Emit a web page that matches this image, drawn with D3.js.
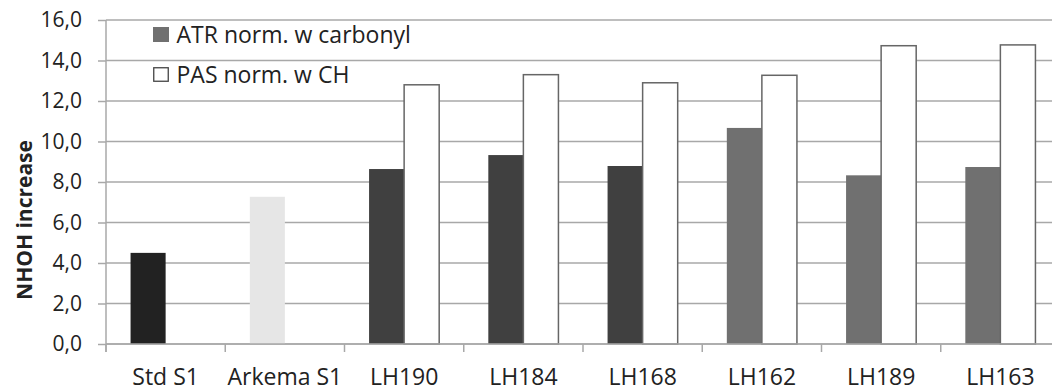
<!DOCTYPE html>
<html>
<head>
<meta charset="utf-8">
<script src="https://cdn.jsdelivr.net/npm/d3@7"></script>
<style>
  body { margin: 0; background: #fff; }
  svg { display: block; font-family: "Open Sans", sans-serif; }
</style>
</head>
<body>
<svg width="1052" height="392"></svg>
<script>
// data
const categories = ["Std S1", "Arkema S1", "LH190", "LH184", "LH168", "LH162", "LH189", "LH163"];
const atrValues = [4.5, 7.27, 8.64, 9.33, 8.79, 10.67, 8.33, 8.74];
const pasValues = [null, null, 12.8, 13.3, 12.9, 13.27, 14.73, 14.77];
const atrColors = ["#222222", "#e6e6e6", "#404040", "#404040", "#404040", "#707070", "#707070", "#707070"];
const yTicks = [0, 2, 4, 6, 8, 10, 12, 14, 16];
const seriesNames = ["ATR norm. w carbonyl", "PAS norm. w CH"];

const margin = { top: 20, right: -8, bottom: 48, left: 106 };
const width = 1052 - margin.left - margin.right;
const height = 392 - margin.top - margin.bottom;

const svg = d3.select("svg");
const g = svg.append("g").attr("transform", `translate(${margin.left}, ${margin.top})`);

const x = d3.scaleBand().domain(categories).range([0, width]);
const y = d3.scaleLinear().domain([0, 16]).range([height, 0]);

const barW = x.bandwidth() * 0.294;
const gap = (x.bandwidth() - 2 * barW) / 2;

// grid
g.selectAll(".grid")
    .data(yTicks)
    .enter().append("line")
    .attr("x1", 0).attr("x2", width)
    .attr("y1", d => y(d)).attr("y2", d => y(d))
    .attr("stroke", "#a8a8a8").attr("stroke-width", 1.5);

// y axis
const yAxis = g.append("g")
    .call(d3.axisLeft(y).tickValues(yTicks).tickSize(8).tickPadding(16)
        .tickFormat(d => d3.format(".1f")(d).replace(".", ",")));
yAxis.select(".domain").remove();
yAxis.selectAll("line").attr("stroke", "#a8a8a8").attr("stroke-width", 1.5);
yAxis.selectAll("text").attr("font-size", 21).attr("fill", "#222").attr("font-family", "Open Sans");
g.append("line")
    .attr("x1", 0).attr("x2", 0).attr("y1", 0).attr("y2", height + 8)
    .attr("stroke", "#a8a8a8").attr("stroke-width", 1.5);

// bars
g.selectAll(".atr")
    .data(categories)
    .enter().append("rect")
    .attr("x", d => x(d) + gap)
    .attr("y", (d, i) => y(atrValues[i]))
    .attr("width", barW)
    .attr("height", (d, i) => height - y(atrValues[i]))
    .attr("fill", (d, i) => atrColors[i]);

g.selectAll(".pas")
    .data(categories.filter((d, i) => pasValues[i] != null))
    .enter().append("rect")
    .attr("x", d => x(d) + gap + barW)
    .attr("y", d => y(pasValues[categories.indexOf(d)]))
    .attr("width", barW)
    .attr("height", d => height - y(pasValues[categories.indexOf(d)]))
    .attr("fill", "#fff")
    .attr("stroke", "#666").attr("stroke-width", 1.5);

// x axis
const xAxis = g.append("g")
    .attr("transform", `translate(0, ${height})`)
    .call(d3.axisBottom(x).tickSize(0));
xAxis.select(".domain").remove();
xAxis.selectAll("text")
    .attr("y", 41).attr("dy", 0)
    .attr("font-size", 23).attr("fill", "#222").attr("font-family", "Open Sans");
g.append("line")
    .attr("x1", 0).attr("x2", width).attr("y1", height).attr("y2", height)
    .attr("stroke", "#a8a8a8").attr("stroke-width", 1.5);
g.selectAll(".xtick")
    .data(categories)
    .enter().append("line")
    .attr("x1", d => x(d)).attr("x2", d => x(d))
    .attr("y1", height).attr("y2", height + 8)
    .attr("stroke", "#a8a8a8").attr("stroke-width", 1.5);

// y title
svg.append("text")
    .attr("transform", "translate(32, 220) rotate(-90)")
    .attr("text-anchor", "middle")
    .attr("font-size", 21).attr("font-weight", "bold").attr("fill", "#222")
    .text("NHOH increase");

// legend
const legend = svg.append("g").attr("transform", "translate(153, 27)");
seriesNames.forEach((name, i) => {
    const row = legend.append("g").attr("transform", `translate(0, ${i * 40})`);
    row.append("rect")
        .attr("x", i ? 0.75 : 0).attr("y", i ? 0.75 : 0)
        .attr("width", i ? 14.5 : 16).attr("height", i ? 13.5 : 15)
        .attr("fill", i ? "#fff" : "#707070")
        .attr("stroke", i ? "#444" : "none").attr("stroke-width", 1.3);
    row.append("text")
        .attr("x", 23.5).attr("y", 15.5)
        .attr("font-size", 23).attr("fill", "#222")
        .text(name);
});
</script>
</body>
</html>
